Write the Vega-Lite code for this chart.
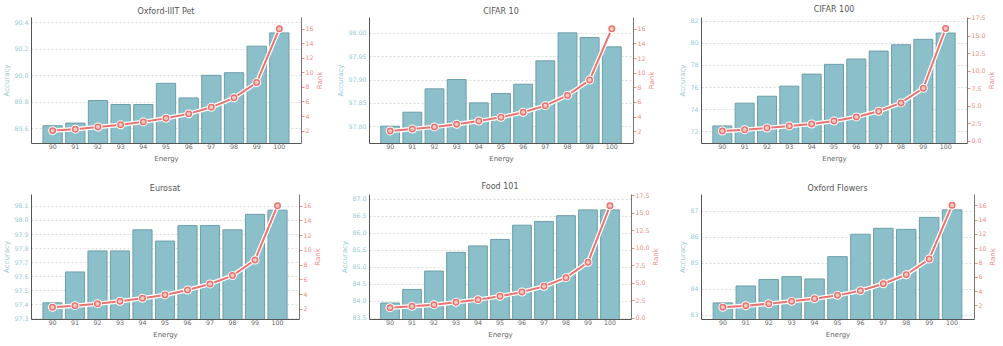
{
  "$schema": "https://vega.github.io/schema/vega-lite/v6.json",
  "background": "white",
  "padding": {"left": 2, "top": 5, "right": 4, "bottom": 2},
  "config": {
    "font": "DejaVu Sans",
    "view": {"stroke": null},
    "title": {"fontSize": 8, "color": "#555555", "fontWeight": "normal", "offset": 1, "anchor": "middle", "frame": "group"},
    "axis": {"labelFontSize": 6.3, "titleFontSize": 7, "titleFontWeight": "normal", "domainColor": "#555555", "labelFont": "DejaVu Sans", "titleFont": "DejaVu Sans"},
    "axisX": {"labelColor": "#666666", "titleColor": "#666666", "ticks": false, "labelAngle": 0, "labelPadding": 0.5, "titlePadding": 4.5, "grid": false},
    "axisLeft": {"labelColor": "#94cbd7", "titleColor": "#94cbd7", "ticks": false, "grid": true, "gridColor": "#dddddd", "gridDash": [2, 2], "labelPadding": 3, "titlePadding": 4},
    "axisRight": {"labelColor": "#f08c86", "titleColor": "#f08c86", "tickColor": "#f08c86", "tickSize": 3, "grid": false, "labelPadding": 1, "titlePadding": 2.5, "titleAngle": 270, "titleBaseline": "top", "domainColor": "#777777"}
  },
  "datasets": {
    "pet": [
      {"energy": 90, "accuracy": 89.62, "rank": 2.0},
      {"energy": 91, "accuracy": 89.64, "rank": 2.2},
      {"energy": 92, "accuracy": 89.81, "rank": 2.5},
      {"energy": 93, "accuracy": 89.78, "rank": 2.8},
      {"energy": 94, "accuracy": 89.78, "rank": 3.2},
      {"energy": 95, "accuracy": 89.94, "rank": 3.7},
      {"energy": 96, "accuracy": 89.83, "rank": 4.3},
      {"energy": 97, "accuracy": 90.0, "rank": 5.2},
      {"energy": 98, "accuracy": 90.02, "rank": 6.5},
      {"energy": 99, "accuracy": 90.22, "rank": 8.6},
      {"energy": 100, "accuracy": 90.32, "rank": 16.0}
    ],
    "cifar10": [
      {"energy": 90, "accuracy": 97.8, "rank": 2.05},
      {"energy": 91, "accuracy": 97.83, "rank": 2.3},
      {"energy": 92, "accuracy": 97.88, "rank": 2.6},
      {"energy": 93, "accuracy": 97.9, "rank": 2.95},
      {"energy": 94, "accuracy": 97.85, "rank": 3.4},
      {"energy": 95, "accuracy": 97.87, "rank": 3.9},
      {"energy": 96, "accuracy": 97.89, "rank": 4.6},
      {"energy": 97, "accuracy": 97.94, "rank": 5.5},
      {"energy": 98, "accuracy": 98.0, "rank": 6.9},
      {"energy": 99, "accuracy": 97.99, "rank": 9.0},
      {"energy": 100, "accuracy": 97.97, "rank": 16.0}
    ],
    "cifar100": [
      {"energy": 90, "accuracy": 72.48, "rank": 1.38},
      {"energy": 91, "accuracy": 74.54, "rank": 1.57},
      {"energy": 92, "accuracy": 75.17, "rank": 1.81},
      {"energy": 93, "accuracy": 76.08, "rank": 2.1},
      {"energy": 94, "accuracy": 77.17, "rank": 2.38},
      {"energy": 95, "accuracy": 78.05, "rank": 2.81},
      {"energy": 96, "accuracy": 78.53, "rank": 3.39},
      {"energy": 97, "accuracy": 79.25, "rank": 4.2},
      {"energy": 98, "accuracy": 79.82, "rank": 5.39},
      {"energy": 99, "accuracy": 80.31, "rank": 7.49},
      {"energy": 100, "accuracy": 80.88, "rank": 16.0}
    ],
    "eurosat": [
      {"energy": 90, "accuracy": 97.41, "rank": 2.23},
      {"energy": 91, "accuracy": 97.63, "rank": 2.45},
      {"energy": 92, "accuracy": 97.78, "rank": 2.72},
      {"energy": 93, "accuracy": 97.78, "rank": 3.04},
      {"energy": 94, "accuracy": 97.93, "rank": 3.45},
      {"energy": 95, "accuracy": 97.85, "rank": 3.9},
      {"energy": 96, "accuracy": 97.96, "rank": 4.57},
      {"energy": 97, "accuracy": 97.96, "rank": 5.39},
      {"energy": 98, "accuracy": 97.93, "rank": 6.52},
      {"energy": 99, "accuracy": 98.04, "rank": 8.64},
      {"energy": 100, "accuracy": 98.07, "rank": 16.0}
    ],
    "food101": [
      {"energy": 90, "accuracy": 83.93, "rank": 1.43},
      {"energy": 91, "accuracy": 84.33, "rank": 1.62},
      {"energy": 92, "accuracy": 84.87, "rank": 1.86},
      {"energy": 93, "accuracy": 85.42, "rank": 2.19},
      {"energy": 94, "accuracy": 85.61, "rank": 2.58},
      {"energy": 95, "accuracy": 85.8, "rank": 3.05},
      {"energy": 96, "accuracy": 86.22, "rank": 3.67},
      {"energy": 97, "accuracy": 86.33, "rank": 4.48},
      {"energy": 98, "accuracy": 86.5, "rank": 5.72},
      {"energy": 99, "accuracy": 86.67, "rank": 7.92},
      {"energy": 100, "accuracy": 86.67, "rank": 16.0}
    ],
    "flowers": [
      {"energy": 90, "accuracy": 83.45, "rank": 1.72},
      {"energy": 91, "accuracy": 84.1, "rank": 1.95},
      {"energy": 92, "accuracy": 84.35, "rank": 2.23},
      {"energy": 93, "accuracy": 84.46, "rank": 2.56},
      {"energy": 94, "accuracy": 84.37, "rank": 2.93},
      {"energy": 95, "accuracy": 85.23, "rank": 3.4},
      {"energy": 96, "accuracy": 86.09, "rank": 4.05},
      {"energy": 97, "accuracy": 86.32, "rank": 5.03},
      {"energy": 98, "accuracy": 86.28, "rank": 6.29},
      {"energy": 99, "accuracy": 86.74, "rank": 8.49},
      {"energy": 100, "accuracy": 87.03, "rank": 16.0}
    ]
  },
  "columns": 3,
  "align": "none",
  "bounds": "flush",
  "spacing": {"row": 51, "column": 68},
  "concat": [
    {
      "title": "Oxford-IIIT Pet",
      "width": 270, "height": 126,
      "data": {"name": "pet"},
      "encoding": {"x": {"field": "energy", "type": "ordinal", "title": "Energy", "scale": {"paddingInner": 0.15, "paddingOuter": 0.53}}},
      "layer": [
        {"mark": {"type": "bar", "fill": "#8bbfc9", "stroke": "#6d9fa8", "strokeWidth": 1, "clip": true},
         "encoding": {"y": {"field": "accuracy", "type": "quantitative", "title": "Accuracy", "scale": {"domain": [89.49, 90.44], "zero": false, "nice": false}, "axis": {"orient": "left", "values": [89.6, 89.8, 90.0, 90.2, 90.4], "format": ".1f"}}}},
        {"encoding": {"y": {"field": "rank", "type": "quantitative", "title": "Rank", "scale": {"domain": [0.3, 17.6], "zero": false, "nice": false}, "axis": {"orient": "right", "values": [2, 4, 6, 8, 10, 12, 14, 16]}}},
         "layer": [
           {"mark": {"type": "line", "color": "#ffffff", "strokeWidth": 4.5}},
           {"mark": {"type": "line", "color": "#e8736f", "strokeWidth": 2}},
           {"mark": {"type": "point", "filled": true, "color": "#ffffff", "opacity": 1, "size": 80}},
           {"mark": {"type": "point", "filled": true, "color": "#f7c9c5", "stroke": "#e8736f", "strokeWidth": 1.5, "opacity": 1, "size": 30}}
         ]}
      ],
      "resolve": {"scale": {"y": "independent"}}
    },
    {
      "title": "CIFAR 10",
      "width": 264, "height": 126,
      "data": {"name": "cifar10"},
      "encoding": {"x": {"field": "energy", "type": "ordinal", "title": "Energy", "scale": {"paddingInner": 0.15, "paddingOuter": 0.53}}},
      "layer": [
        {"mark": {"type": "bar", "fill": "#8bbfc9", "stroke": "#6d9fa8", "strokeWidth": 1, "clip": true},
         "encoding": {"y": {"field": "accuracy", "type": "quantitative", "title": "Accuracy", "scale": {"domain": [97.764, 98.034], "zero": false, "nice": false}, "axis": {"orient": "left", "values": [97.8, 97.85, 97.9, 97.95, 98.0], "format": ".2f"}}}},
        {"encoding": {"y": {"field": "rank", "type": "quantitative", "title": "Rank", "scale": {"domain": [0.4, 17.6], "zero": false, "nice": false}, "axis": {"orient": "right", "values": [2, 4, 6, 8, 10, 12, 14, 16]}}},
         "layer": [
           {"mark": {"type": "line", "color": "#ffffff", "strokeWidth": 4.5}},
           {"mark": {"type": "line", "color": "#e8736f", "strokeWidth": 2}},
           {"mark": {"type": "point", "filled": true, "color": "#ffffff", "opacity": 1, "size": 80}},
           {"mark": {"type": "point", "filled": true, "color": "#f7c9c5", "stroke": "#e8736f", "strokeWidth": 1.5, "opacity": 1, "size": 30}}
         ]}
      ],
      "resolve": {"scale": {"y": "independent"}}
    },
    {
      "title": "CIFAR 100",
      "width": 266, "height": 126,
      "data": {"name": "cifar100"},
      "encoding": {"x": {"field": "energy", "type": "ordinal", "title": "Energy", "scale": {"paddingInner": 0.15, "paddingOuter": 0.53}}},
      "layer": [
        {"mark": {"type": "bar", "fill": "#8bbfc9", "stroke": "#6d9fa8", "strokeWidth": 1, "clip": true},
         "encoding": {"y": {"field": "accuracy", "type": "quantitative", "title": "Accuracy", "scale": {"domain": [70.94, 82.33], "zero": false, "nice": false}, "axis": {"orient": "left", "values": [72, 74, 76, 78, 80, 82], "format": "d"}}}},
        {"encoding": {"y": {"field": "rank", "type": "quantitative", "title": "Rank", "scale": {"domain": [-0.33, 17.64], "zero": false, "nice": false}, "axis": {"orient": "right", "values": [0, 2.5, 5, 7.5, 10, 12.5, 15, 17.5], "format": ".1f"}}},
         "layer": [
           {"mark": {"type": "line", "color": "#ffffff", "strokeWidth": 4.5}},
           {"mark": {"type": "line", "color": "#e8736f", "strokeWidth": 2}},
           {"mark": {"type": "point", "filled": true, "color": "#ffffff", "opacity": 1, "size": 80}},
           {"mark": {"type": "point", "filled": true, "color": "#f7c9c5", "stroke": "#e8736f", "strokeWidth": 1.5, "opacity": 1, "size": 30}}
         ]}
      ],
      "resolve": {"scale": {"y": "independent"}}
    },
    {
      "title": "Eurosat",
      "width": 268, "height": 125,
      "data": {"name": "eurosat"},
      "encoding": {"x": {"field": "energy", "type": "ordinal", "title": "Energy", "scale": {"paddingInner": 0.15, "paddingOuter": 0.53}}},
      "layer": [
        {"mark": {"type": "bar", "fill": "#8bbfc9", "stroke": "#6d9fa8", "strokeWidth": 1, "clip": true},
         "encoding": {"y": {"field": "accuracy", "type": "quantitative", "title": "Accuracy", "scale": {"domain": [97.295, 98.185], "zero": false, "nice": false}, "axis": {"orient": "left", "values": [97.3, 97.4, 97.5, 97.6, 97.7, 97.8, 97.9, 98.0, 98.1], "format": ".1f"}}}},
        {"encoding": {"y": {"field": "rank", "type": "quantitative", "title": "Rank", "scale": {"domain": [0.64, 17.58], "zero": false, "nice": false}, "axis": {"orient": "right", "values": [2, 4, 6, 8, 10, 12, 14, 16]}}},
         "layer": [
           {"mark": {"type": "line", "color": "#ffffff", "strokeWidth": 4.5}},
           {"mark": {"type": "line", "color": "#e8736f", "strokeWidth": 2}},
           {"mark": {"type": "point", "filled": true, "color": "#ffffff", "opacity": 1, "size": 80}},
           {"mark": {"type": "point", "filled": true, "color": "#f7c9c5", "stroke": "#e8736f", "strokeWidth": 1.5, "opacity": 1, "size": 30}}
         ]}
      ],
      "resolve": {"scale": {"y": "independent"}}
    },
    {
      "title": "Food 101",
      "width": 262, "height": 125,
      "data": {"name": "food101"},
      "encoding": {"x": {"field": "energy", "type": "ordinal", "title": "Energy", "scale": {"paddingInner": 0.15, "paddingOuter": 0.53}}},
      "layer": [
        {"mark": {"type": "bar", "fill": "#8bbfc9", "stroke": "#6d9fa8", "strokeWidth": 1, "clip": true},
         "encoding": {"y": {"field": "accuracy", "type": "quantitative", "title": "Accuracy", "scale": {"domain": [83.46, 87.137], "zero": false, "nice": false}, "axis": {"orient": "left", "values": [83.5, 84.0, 84.5, 85.0, 85.5, 86.0, 86.5, 87.0], "format": ".1f"}}}},
        {"encoding": {"y": {"field": "rank", "type": "quantitative", "title": "Rank", "scale": {"domain": [-0.19, 17.69], "zero": false, "nice": false}, "axis": {"orient": "right", "values": [0, 2.5, 5, 7.5, 10, 12.5, 15, 17.5], "format": ".1f"}}},
         "layer": [
           {"mark": {"type": "line", "color": "#ffffff", "strokeWidth": 4.5}},
           {"mark": {"type": "line", "color": "#e8736f", "strokeWidth": 2}},
           {"mark": {"type": "point", "filled": true, "color": "#ffffff", "opacity": 1, "size": 80}},
           {"mark": {"type": "point", "filled": true, "color": "#f7c9c5", "stroke": "#e8736f", "strokeWidth": 1.5, "opacity": 1, "size": 30}}
         ]}
      ],
      "resolve": {"scale": {"y": "independent"}}
    },
    {
      "title": "Oxford Flowers",
      "width": 273, "height": 125,
      "data": {"name": "flowers"},
      "encoding": {"x": {"field": "energy", "type": "ordinal", "title": "Energy", "scale": {"paddingInner": 0.15, "paddingOuter": 0.53}}},
      "layer": [
        {"mark": {"type": "bar", "fill": "#8bbfc9", "stroke": "#6d9fa8", "strokeWidth": 1, "clip": true},
         "encoding": {"y": {"field": "accuracy", "type": "quantitative", "title": "Accuracy", "scale": {"domain": [82.83, 87.64], "zero": false, "nice": false}, "axis": {"orient": "left", "values": [83, 84, 85, 86, 87], "format": "d"}}}},
        {"encoding": {"y": {"field": "rank", "type": "quantitative", "title": "Rank", "scale": {"domain": [0.09, 17.59], "zero": false, "nice": false}, "axis": {"orient": "right", "values": [2, 4, 6, 8, 10, 12, 14, 16]}}},
         "layer": [
           {"mark": {"type": "line", "color": "#ffffff", "strokeWidth": 4.5}},
           {"mark": {"type": "line", "color": "#e8736f", "strokeWidth": 2}},
           {"mark": {"type": "point", "filled": true, "color": "#ffffff", "opacity": 1, "size": 80}},
           {"mark": {"type": "point", "filled": true, "color": "#f7c9c5", "stroke": "#e8736f", "strokeWidth": 1.5, "opacity": 1, "size": 30}}
         ]}
      ],
      "resolve": {"scale": {"y": "independent"}}
    }
  ]
}
